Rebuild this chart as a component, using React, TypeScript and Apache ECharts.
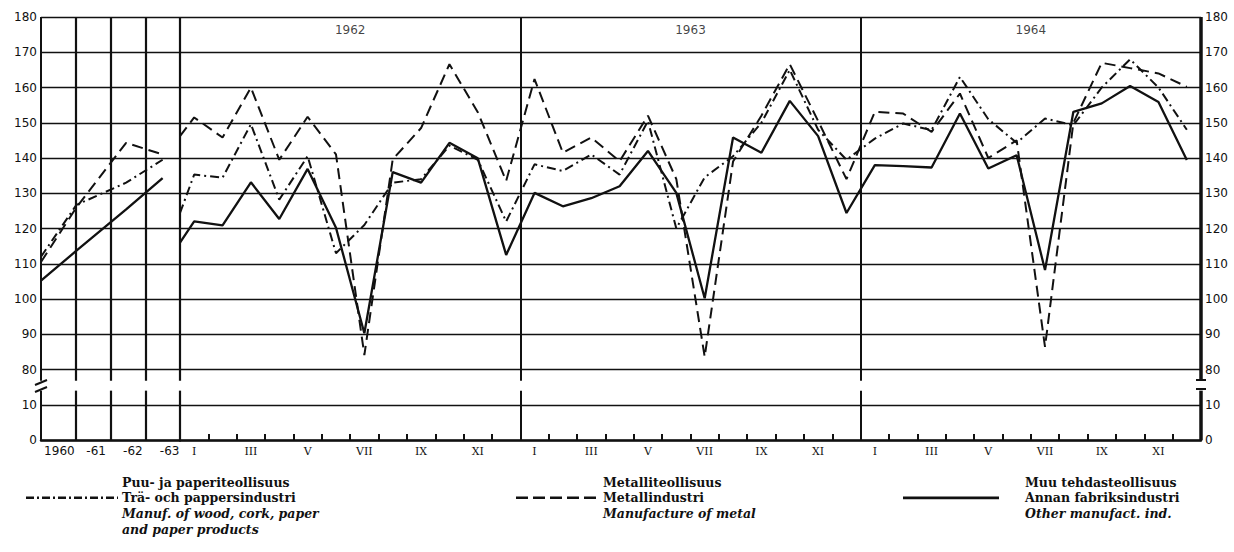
import React, { useEffect, useRef } from "react";
import * as echarts from "echarts";

// ---------- data ----------
const annualLabels = ["1960", "-61", "-62", "-63"];
const annualX = [0, 1.02, 2.45, 3.5];
const woodAnnual = [112, 126.7, 133, 139.5];
const metalAnnual = [110.5, 126, 144.3, 141];
const otherAnnual = [105.2, 113.7, 125.4, 134.3];

const monthNames = ["I", "II", "III", "IV", "V", "VI", "VII", "VIII", "IX", "X", "XI", "XII"];
const months = [...monthNames, ...monthNames, ...monthNames];
const yearLabels = ["1962", "1963", "1964"];

// value where each monthly line begins at the 1962 boundary
const woodStart = 124.4;
const metalStart = 146.2;
const otherStart = 116;

const wood1962 = [135.3, 134.4, 149.6, 128.2, 140.5, 113, 121, 133, 134, 143.5, 139.5, 122];
const wood1963 = [138.2, 136.3, 141, 135.3, 150.5, 120, 134.5, 140.5, 150, 165, 148, 139.5];
const wood1964 = [145.5, 149.8, 147.9, 163, 151, 144.3, 151.2, 149.3, 160, 168, 160, 148];

const metal1962 = [151.5, 145.8, 160, 139.5, 151.7, 141, 84.1, 139.6, 148.5, 166.6, 153, 133.5];
const metal1963 = [162.4, 141.5, 145.8, 139.1, 152, 134, 83.6, 139, 152, 166.6, 150.5, 134];
const metal1964 = [153.1, 152.6, 147.4, 158.3, 140, 145, 86.4, 150, 167, 165.5, 164, 160.2];

const other1962 = [122, 120.9, 133.1, 122.7, 136.9, 120.2, 90.3, 136, 133, 144.3, 139.9, 112.5];
const other1963 = [130.1, 126.3, 128.6, 132, 142, 130.1, 100.2, 145.8, 141.5, 156.2, 146.2, 124.4];
const other1964 = [138, 137.7, 137.3, 152.6, 137, 140.8, 108.2, 153.1, 155.5, 160.4, 155.9, 139.4];

const woodMonthly = [...wood1962, ...wood1963, ...wood1964];
const metalMonthly = [...metal1962, ...metal1963, ...metal1964];
const otherMonthly = [...other1962, ...other1963, ...other1964];

const legendWood = ["Puu- ja paperiteollisuus", "Trä- och pappersindustri", "Manuf. of wood, cork, paper", "and paper products"];
const legendMetal = ["Metalliteollisuus", "Metallindustri", "Manufacture of metal"];
const legendOther = ["Muu tehdasteollisuus", "Annan fabriksindustri", "Other manufact. ind."];

// ---------- helpers ----------
const INK = "#111";
const BREAK_FROM = 80; // values >= 80 are shifted down over the axis break
const SHIFT = 60;
const toDisp = (v: number) => (v >= BREAK_FROM ? v - SHIFT : v);
const yLabel = (v: number) => (v <= 10 ? String(v) : String(v + SHIFT));
const GAP_TOP = 16.8;
const GAP_BOTTOM = 14;

const DASH_DOT = [9, 4, 2, 4];
const DASHED = [11, 6];

const vseg = (x: number, w: number) => [
  [{ coord: [x, 120], lineStyle: { width: w } }, { coord: [x, GAP_TOP] }],
  [{ coord: [x, GAP_BOTTOM], lineStyle: { width: w } }, { coord: [x, 0] }],
];

const numFont = "DejaVu Sans";
const serif = "DejaVu Serif";

function buildOption() {
  const lineBase = (data: number[][], xi: number, yi: number, type: any, width: number) => ({
    type: "line",
    xAxisIndex: xi,
    yAxisIndex: yi,
    data,
    symbol: "none",
    silent: true,
    lineStyle: { color: INK, width, type },
  });
  const annual = (vals: number[]) => annualX.map((x, i) => [x, toDisp(vals[i])]);
  const monthly = (start: number, vals: number[]) => [[0, toDisp(start)], ...vals.map((v, i) => [i + 0.5, toDisp(v)])];

  const LEG_Y = 482;
  const LEG_STEP = 15.8;
  const legendTexts = (lines: string[], x: number) =>
    lines.map((t, i) => ({
      type: "text",
      x,
      y: LEG_Y + i * LEG_STEP,
      style: {
        text: t,
        fill: INK,
        font: `${i >= 2 ? "italic " : ""}bold 12.5px ${serif}`,
        textVerticalAlign: "middle",
      },
    }));
  const keyY = LEG_Y + LEG_STEP;

  return {
    animation: false,
    backgroundColor: "#fff",
    textStyle: { fontFamily: numFont, color: INK },
    grid: [
      { left: 41, top: 17, width: 139, height: 423 },
      { left: 180, top: 17, width: 1021, height: 423 },
    ],
    xAxis: [
      { type: "value", gridIndex: 0, min: 0, max: 4, show: false, position: "top" },
      {
        type: "category",
        gridIndex: 0,
        position: "bottom",
        data: annualLabels,
        boundaryGap: true,
        axisLine: { show: true, lineStyle: { color: INK, width: 2.5 } },
        axisTick: { show: false },
        splitLine: { show: false },
        axisLabel: {
          interval: 0,
          margin: 5,
          fontSize: 12,
          fontFamily: numFont,
          color: INK,
          formatter: (v: string, i: number) => `{p${i}|${v}}`,
          rich: {
            p0: { padding: [0, 0, 0, 2], fontSize: 12, fontFamily: numFont, color: INK },
            p1: { padding: [0, 0, 0, 6], fontSize: 12, fontFamily: numFont, color: INK },
            p2: { padding: [0, 0, 0, 10], fontSize: 12, fontFamily: numFont, color: INK },
            p3: { padding: [0, 0, 0, 14], fontSize: 12, fontFamily: numFont, color: INK },
          },
        },
      },
      {
        type: "category",
        gridIndex: 1,
        position: "bottom",
        data: months,
        boundaryGap: true,
        axisLine: { show: true, lineStyle: { color: INK, width: 2.5 } },
        axisTick: { show: true, inside: true, length: 6, interval: 0, lineStyle: { color: INK, width: 2 } },
        splitLine: { show: false },
        axisLabel: { interval: 1, margin: 6, fontSize: 11, fontFamily: serif, color: INK },
      },
      { type: "value", gridIndex: 1, min: 0, max: 36, show: false, position: "top" },
    ],
    yAxis: [0, 1].map((gi) => ({
      type: "value",
      gridIndex: gi,
      min: 0,
      max: 120,
      interval: 10,
      position: gi === 0 ? "left" : "right",
      axisLine: { show: false },
      axisTick: { show: false },
      axisLabel: {
        show: true,
        margin: 4,
        fontSize: 12,
        fontFamily: numFont,
        color: INK,
        formatter: yLabel,
      },
      splitLine: { show: true, lineStyle: { color: INK, width: 1.4 } },
    })),
    series: [
      lineBase(annual(woodAnnual), 0, 0, DASH_DOT, 2),
      lineBase(annual(metalAnnual), 0, 0, DASHED, 2),
      lineBase(annual(otherAnnual), 0, 0, "solid", 2.3),
      lineBase(monthly(woodStart, woodMonthly), 3, 1, DASH_DOT, 2),
      lineBase(monthly(metalStart, metalMonthly), 3, 1, DASHED, 2),
      lineBase(monthly(otherStart, otherMonthly), 3, 1, "solid", 2.3),
      {
        type: "line",
        xAxisIndex: 0,
        yAxisIndex: 0,
        data: [],
        silent: true,
        markLine: {
          silent: true,
          symbol: ["none", "none"],
          label: { show: false },
          lineStyle: { color: INK, type: "solid", width: 2 },
          data: [...vseg(0, 2), ...vseg(1, 2.2), ...vseg(2, 2.2), ...vseg(3, 2.2)],
        },
      },
      {
        type: "line",
        xAxisIndex: 3,
        yAxisIndex: 1,
        data: [],
        silent: true,
        markLine: {
          silent: true,
          symbol: ["none", "none"],
          label: { show: false },
          lineStyle: { color: INK, type: "solid", width: 2 },
          data: [...vseg(0, 2.2), ...vseg(12, 2), ...vseg(24, 2), ...vseg(36, 3.5)],
        },
      },
      {
        type: "scatter",
        xAxisIndex: 3,
        yAxisIndex: 1,
        silent: true,
        symbolSize: 0,
        data: yearLabels.map((_, i) => [6 + 12 * i, 116.3]),
        label: {
          show: true,
          position: "inside",
          fontSize: 12,
          fontFamily: numFont,
          color: INK,
          formatter: (p: any) => yearLabels[p.dataIndex],
        },
      },
    ],
    graphic: [
      // axis break marks
      { type: "line", shape: { x1: 35, y1: 385, x2: 47, y2: 380 }, style: { stroke: INK, lineWidth: 2 } },
      { type: "line", shape: { x1: 35, y1: 392, x2: 47, y2: 387 }, style: { stroke: INK, lineWidth: 2 } },
      { type: "line", shape: { x1: 1196, y1: 380, x2: 1206, y2: 380 }, style: { stroke: INK, lineWidth: 2 } },
      { type: "line", shape: { x1: 1196, y1: 389, x2: 1206, y2: 389 }, style: { stroke: INK, lineWidth: 2 } },
      // legend keys
      { type: "line", shape: { x1: 26, y1: keyY, x2: 118, y2: keyY }, style: { stroke: INK, lineWidth: 2.5, lineDash: [8, 3, 2, 3] } },
      { type: "line", shape: { x1: 516, y1: keyY, x2: 599, y2: keyY }, style: { stroke: INK, lineWidth: 2.5, lineDash: [12, 5] } },
      { type: "line", shape: { x1: 903, y1: keyY, x2: 999, y2: keyY }, style: { stroke: INK, lineWidth: 2.8 } },
      ...legendTexts(legendWood, 122),
      ...legendTexts(legendMetal, 603),
      ...legendTexts(legendOther, 1025),
    ],
  };
}

export default function App() {
  const ref = useRef<HTMLDivElement>(null);
  useEffect(() => {
    document.body.style.margin = "0";
    const chart = echarts.init(ref.current!, undefined, { renderer: "svg" });
    chart.setOption(buildOption() as any);
    return () => chart.dispose();
  }, []);
  return <div ref={ref} style={{ width: 1234, height: 552 }} />;
}
